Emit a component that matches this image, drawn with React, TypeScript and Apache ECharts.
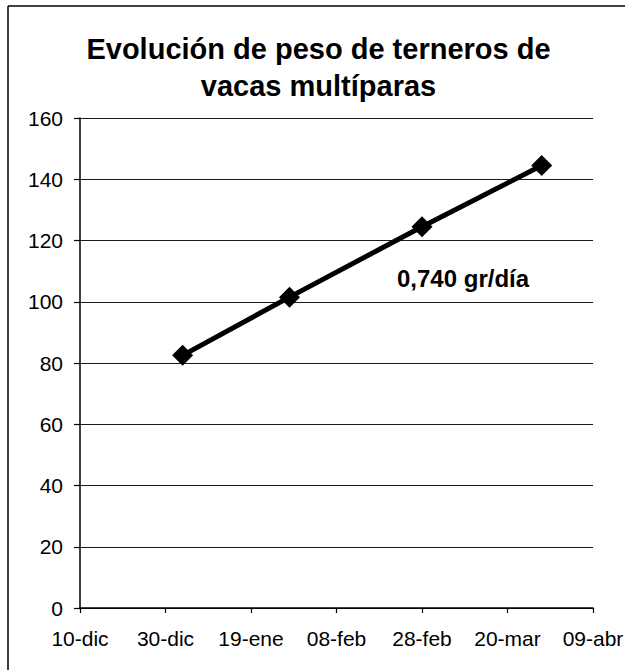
import React, { useEffect, useRef } from "react";
import * as echarts from "echarts";

// X axis: days since 10-dic, one tick every 20 days
const tickLabels = ["10-dic", "30-dic", "19-ene", "08-feb", "28-feb", "20-mar", "09-abr"];
const tickStepDays = 20;
// Weighing dates (days since 10-dic): 03-ene, 28-ene, 28-feb, 28-mar
const pointDays = [24, 49, 80, 108];
const weights = [82.5, 101.5, 124.5, 144.5];
const titleText = "Evolución de peso de terneros de\nvacas multíparas";
const annotation = "0,740 gr/día";

const FONT = "'Liberation Sans', Arial, sans-serif";

export default function App() {
  const ref = useRef<HTMLDivElement>(null);
  useEffect(() => {
    if (!ref.current) return;
    const chart = echarts.init(ref.current, null, { renderer: "svg" });
    const data = pointDays.map((d, i) => [d, weights[i]]);
    chart.setOption({
      animation: false,
      backgroundColor: "#ffffff",
      title: {
        text: titleText,
        left: "center",
        top: 25,
        textStyle: {
          fontFamily: FONT,
          fontWeight: "bold",
          fontSize: 29,
          lineHeight: 37,
          color: "#000",
        },
      },
      grid: { left: 80, top: 118, right: 44, bottom: 62, containLabel: false },
      xAxis: {
        type: "value",
        min: 0,
        max: tickStepDays * (tickLabels.length - 1),
        interval: tickStepDays,
        axisLine: { show: true, onZero: false, lineStyle: { color: "#000", width: 1.5 } },
        axisTick: { show: true, inside: false, length: 5, lineStyle: { color: "#000", width: 1.2 } },
        splitLine: { show: false },
        axisLabel: {
          margin: 20,
          fontFamily: FONT,
          fontSize: 21,
          color: "#000",
          formatter: (v: number) => tickLabels[Math.round(v / tickStepDays)] ?? "",
        },
      },
      yAxis: {
        type: "value",
        min: 0,
        max: 160,
        interval: 20,
        axisLine: { show: true, lineStyle: { color: "#000", width: 1.5 } },
        axisTick: { show: true, inside: false, length: 6, lineStyle: { color: "#000", width: 1.2 } },
        splitLine: { show: true, lineStyle: { color: "#1a1a1a", width: 1.2 } },
        axisLabel: {
          margin: 17,
          fontFamily: FONT,
          fontSize: 21,
          color: "#000",
        },
      },
      series: [
        {
          type: "line",
          data,
          symbol: "diamond",
          symbolSize: 21,
          lineStyle: { color: "#000", width: 5 },
          itemStyle: { color: "#000" },
          z: 5,
        },
      ],
      graphic: [
        {
          type: "line",
          shape: { x1: 8, y1: 6, x2: 625, y2: 6 },
          style: { stroke: "#000", lineWidth: 1.5 },
        },
        {
          type: "line",
          shape: { x1: 8, y1: 6, x2: 8, y2: 670 },
          style: { stroke: "#000", lineWidth: 1.5 },
        },
        {
          type: "text",
          left: 397,
          top: 266,
          style: {
            text: annotation,
            fontFamily: FONT,
            fontWeight: "bold",
            fontSize: 24,
            fill: "#000",
          },
        },
      ],
    });
    return () => chart.dispose();
  }, []);
  return <div ref={ref} style={{ width: 637, height: 670, position: "absolute", left: 0, top: 0 }} />;
}
